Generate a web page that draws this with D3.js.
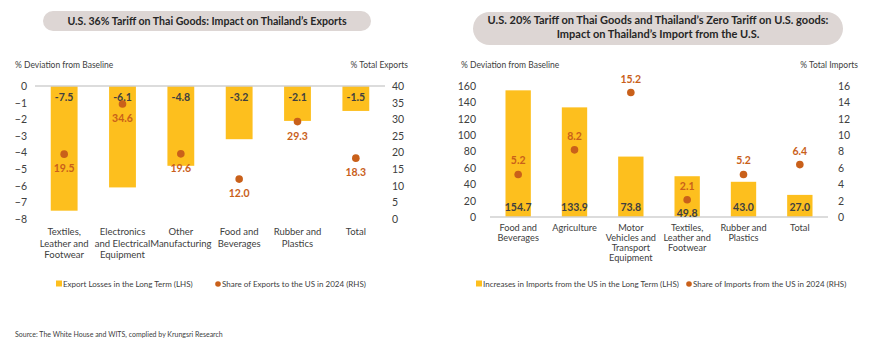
<!DOCTYPE html>
<html>
<head>
<meta charset="utf-8">
<script src="https://cdn.jsdelivr.net/npm/d3@7"></script>
<style>
  body { margin: 0; background: #fff; }
  svg { font-family: Lato, "Noto Sans", sans-serif; }
</style>
</head>
<body>
<div id="wrapper"></div>
<script>
// ---- data: exports panel
const exportCategories = ["Textiles, Leather and Footwear", "Electronics and Electrical Equipment", "Other Manufacturing", "Food and Beverages", "Rubber and Plastics", "Total"]
const exportLosses = [-7.5, -6.1, -4.8, -3.2, -2.1, -1.5]
const exportShare = [19.5, 34.6, 19.6, 12.0, 29.3, 18.3]
const exportLeftTicks = [0, -1, -2, -3, -4, -5, -6, -7, -8]
const exportRightTicks = [0, 5, 10, 15, 20, 25, 30, 35, 40]

// ---- data: imports panel
const importCategories = ["Food and Beverages", "Agriculture", "Motor Vehicles and Transport Equipment", "Textiles, Leather and Footwear", "Rubber and Plastics", "Total"]
const importIncreases = [154.7, 133.9, 73.8, 49.8, 43.0, 27.0]
const importShare = [5.2, 8.2, 15.2, 2.1, 5.2, 6.4]
const importLeftTicks = [0, 20, 40, 60, 80, 100, 120, 140, 160]
const importRightTicks = [0, 2, 4, 6, 8, 10, 12, 14, 16]

// category label line breaks (as in the original)
const exportLabelLines = [["Textiles,", "Leather and", "Footwear"], ["Electronics", "and Electrical", "Equipment"], ["Other", "Manufacturing"], ["Food and", "Beverages"], ["Rubber and", "Plastics"], ["Total"]]
const importLabelLines = [["Food and", "Beverages"], ["Agriculture"], ["Motor", "Vehicles and", "Transport", "Equipment"], ["Textiles,", "Leather and", "Footwear"], ["Rubber and", "Plastics"], ["Total"]]

const barColor = "#FDBF1E"
const dotColor = "#C9601A"
const textColor = "#404040"

const svg = d3.select("#wrapper")
  .append("svg")
    .attr("width", 870)
    .attr("height", 354)

function drawPanel(cfg) {
  const g = svg.append("g")
  const d = cfg.dims

  // title pill
  g.append("rect")
    .attr("x", cfg.title.x).attr("y", cfg.title.y)
    .attr("width", cfg.title.w).attr("height", cfg.title.h)
    .attr("rx", cfg.title.h / 2)
    .attr("fill", "#DDD6D4")
  cfg.title.lines.forEach((t, i) => {
    g.append("text")
      .attr("x", cfg.title.x + cfg.title.w / 2)
      .attr("y", cfg.title.textY + i * 14)
      .attr("text-anchor", "middle")
      .attr("font-size", cfg.title.size)
      .attr("font-weight", "bold")
      .attr("fill", "#262626")
      .text(t)
  })

  const xScale = d3.scaleBand()
    .domain(cfg.categories)
    .range([d.left, d.right])
    .paddingInner(cfg.padding)
    .paddingOuter(cfg.padding / 2)

  const yScale = d3.scaleLinear()
    .domain(cfg.leftDomain)
    .range([d.bottom, d.top])

  const y2Scale = d3.scaleLinear()
    .domain(cfg.rightDomain)
    .range([d.bottom, d.top])

  // axis titles
  g.append("text")
    .attr("x", cfg.leftTitleX).attr("y", 68)
    .attr("font-size", 8.5).attr("fill", textColor)
    .text("% Deviation from Baseline")
  g.append("text")
    .attr("x", cfg.rightTitleX).attr("y", 68)
    .attr("text-anchor", "end")
    .attr("font-size", 8.5).attr("fill", textColor)
    .text(cfg.rightTitle)

  // left axis
  const yAxis = g.append("g")
    .attr("transform", `translate(${d.leftLabelX},0)`)
    .call(d3.axisLeft(yScale).tickValues(cfg.leftTicks).tickSize(0).tickPadding(0))
  yAxis.select(".domain").remove()
  yAxis.selectAll("text")
    .attr("font-size", 10.5).attr("fill", textColor)
    .attr("font-family", "Lato, sans-serif")

  // right axis
  const y2Axis = g.append("g")
    .attr("transform", `translate(${d.rightLabelX},0)`)
    .call(d3.axisRight(y2Scale).tickValues(cfg.rightTicks).tickSize(0).tickPadding(0))
  y2Axis.select(".domain").remove()
  y2Axis.selectAll("text")
    .attr("font-size", 10.5).attr("fill", textColor)
    .attr("font-family", "Lato, sans-serif")

  // bars
  const rows = cfg.categories.map((c, i) => ({ cat: c, bar: cfg.bars[i], dot: cfg.dots[i], lines: cfg.labelLines[i] }))

  g.selectAll(".bar")
    .data(rows)
    .enter().append("rect")
      .attr("x", r => xScale(r.cat))
      .attr("width", xScale.bandwidth())
      .attr("y", r => Math.min(yScale(r.bar), yScale(0)))
      .attr("height", r => Math.abs(yScale(r.bar) - yScale(0)))
      .attr("fill", barColor)

  // zero line
  g.append("line")
    .attr("x1", d.left).attr("x2", d.right)
    .attr("y1", yScale(0)).attr("y2", yScale(0))
    .attr("stroke", "#D0D0D0").attr("stroke-width", 1.5)

  // bar value labels
  g.selectAll(".barLabel")
    .data(rows)
    .enter().append("text")
      .attr("x", r => xScale(r.cat) + xScale.bandwidth() / 2)
      .attr("y", (r, i) => cfg.barLabelY(r, i, yScale))
      .attr("text-anchor", "middle")
      .attr("font-size", 10.5).attr("font-weight", "bold")
      .attr("fill", textColor)
      .text(r => r.bar.toFixed(1))

  // dots
  g.selectAll(".dot")
    .data(rows)
    .enter().append("circle")
      .attr("cx", r => xScale(r.cat) + xScale.bandwidth() / 2)
      .attr("cy", r => y2Scale(r.dot))
      .attr("r", 3.8)
      .attr("fill", dotColor)

  g.selectAll(".dotLabel")
    .data(rows)
    .enter().append("text")
      .attr("x", r => xScale(r.cat) + xScale.bandwidth() / 2)
      .attr("y", r => y2Scale(r.dot) + cfg.dotLabelDy)
      .attr("text-anchor", "middle")
      .attr("font-size", 10.5).attr("font-weight", "bold")
      .attr("fill", dotColor)
      .text(r => r.dot.toFixed(1))

  // category labels
  rows.forEach(r => {
    r.lines.forEach((line, j) => {
      g.append("text")
        .attr("x", xScale(r.cat) + xScale.bandwidth() / 2)
        .attr("y", cfg.catLabelY + j * cfg.catLineH)
        .attr("text-anchor", "middle")
        .attr("font-size", cfg.catFont).attr("fill", textColor)
        .text(line)
    })
  })

  // legend
  const lg = g.append("g").attr("transform", `translate(0,${cfg.legendY})`)
  lg.append("rect")
    .attr("x", cfg.legend.sq).attr("y", -3.5)
    .attr("width", 6).attr("height", 6)
    .attr("fill", barColor)
  lg.append("text")
    .attr("x", cfg.legend.sq + 7).attr("y", 0)
    .attr("dy", "0.35em")
    .attr("font-size", 8).attr("fill", textColor)
    .text(cfg.legend.barText)
  lg.append("circle")
    .attr("cx", cfg.legend.dot).attr("cy", 0)
    .attr("r", 2.8).attr("fill", dotColor)
  lg.append("text")
    .attr("x", cfg.legend.dot + 4).attr("y", 0)
    .attr("dy", "0.35em")
    .attr("font-size", 8).attr("fill", textColor)
    .text(cfg.legend.dotText)
}

drawPanel({
  title: { x: 43, y: 11, w: 328, h: 20, textY: 25, size: 10.6, lines: ["U.S. 36% Tariff on Thai Goods: Impact on Thailand\u2019s Exports"] },
  dims: { left: 35, right: 385, top: 86, bottom: 219, leftLabelX: 27, rightLabelX: 392 },
  categories: exportCategories,
  bars: exportLosses,
  dots: exportShare,
  labelLines: exportLabelLines,
  leftDomain: [-8, 0],
  rightDomain: [0, 40],
  leftTicks: exportLeftTicks,
  rightTicks: exportRightTicks,
  leftTitleX: 15,
  rightTitleX: 408,
  rightTitle: "% Total Exports",
  padding: 0.54,
  barLabelY: (r, i, y) => y(0) + 15,
  dotLabelDy: 18,
  catLabelY: 235,
  catLineH: 11.7,
  catFont: 9.5,
  legendY: 284,
  legend: { sq: 56, dot: 218, barText: "Export Losses in the Long Term (LHS)", dotText: "Share of Exports to the US in 2024 (RHS)" }
})

drawPanel({
  title: { x: 473, y: 12, w: 370, h: 33, textY: 24, size: 11, lines: ["U.S. 20% Tariff on Thai Goods and Thailand\u2019s Zero Tariff on U.S. goods:", "Impact on Thailand\u2019s Import from the U.S."] },
  dims: { left: 490, right: 828, top: 86, bottom: 217, leftLabelX: 476, rightLabelX: 838 },
  categories: importCategories,
  bars: importIncreases,
  dots: importShare,
  labelLines: importLabelLines,
  leftDomain: [0, 160],
  rightDomain: [0, 16],
  leftTicks: importLeftTicks,
  rightTicks: importRightTicks,
  leftTitleX: 461,
  rightTitleX: 858,
  rightTitle: "% Total Imports",
  padding: 0.55,
  // 49.8 sits lower than the rest in the original
  barLabelY: (r, i, y) => y(0) - 6 + (i === 3 ? 6 : 0),
  dotLabelDy: -10,
  catLabelY: 231,
  catLineH: 10,
  catFont: 9.2,
  legendY: 284,
  legend: { sq: 476, dot: 689, barText: "Increases in Imports from the US in the Long Term (LHS)", dotText: "Share of Imports from the US in 2024 (RHS)" }
})

// source note
svg.append("text")
  .attr("x", 15).attr("y", 337)
  .attr("font-size", 7).attr("fill", textColor)
  .text("Source: The White House and WITS, complied by Krungsri Research")
</script>
</body>
</html>
